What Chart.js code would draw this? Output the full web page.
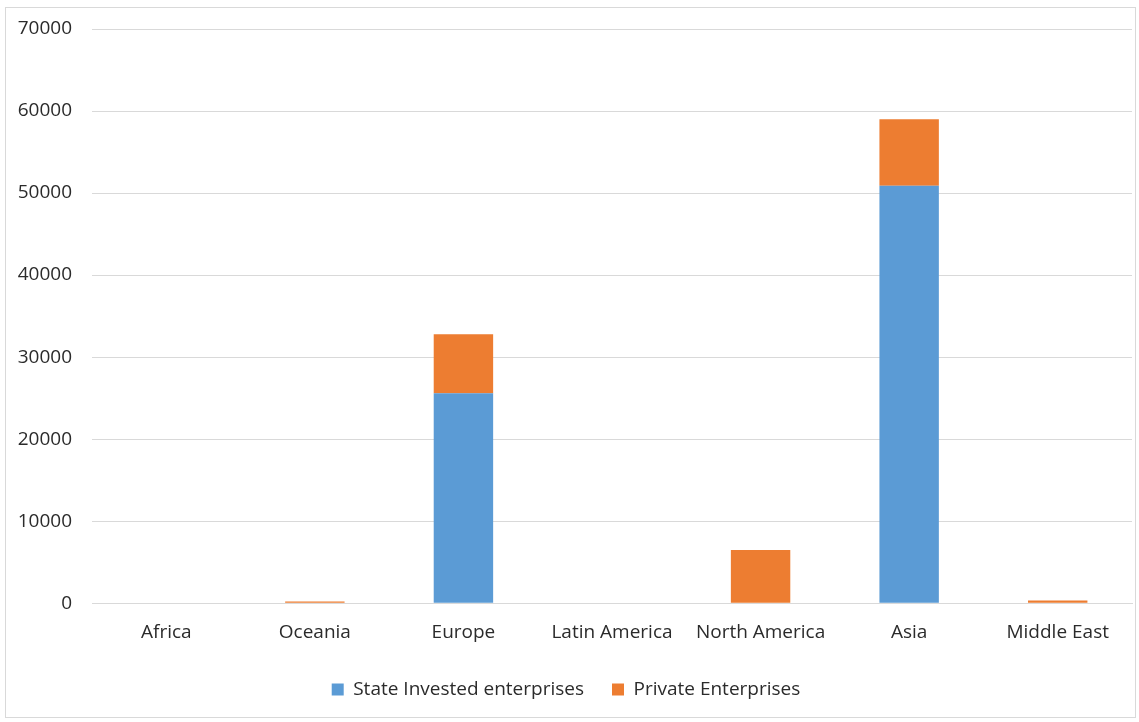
<!DOCTYPE html>
<html>
<head>
<meta charset="utf-8">
<script src="https://cdn.jsdelivr.net/npm/chart.js@4"></script>
<style>
  html, body { margin: 0; padding: 0; background: #fff; }
  #wrap { position: relative; width: 1139px; height: 722px; }
  #frame { position: absolute; left: 5px; top: 7px; width: 1131px; height: 711px; border: 1px solid #d9d9d9; box-sizing: border-box; pointer-events: none; }
</style>
</head>
<body>
<div id="wrap">
  <canvas id="chart" width="1139" height="722"></canvas>
  <div id="frame"></div>
</div>
<script>
const regions = ['Africa', 'Oceania', 'Europe', 'Latin America', 'North America', 'Asia', 'Middle East'];
const stateInvested = [0, 0, 25600, 0, 0, 50900, 0];
const privateEnterprises = [0, 200, 7200, 0, 6500, 8100, 330];
const yTicks = [0, 10000, 20000, 30000, 40000, 50000, 60000, 70000];

const textColor = '#2b2b2b';
const gridColor = '#d9d9d9';
Chart.defaults.font.family = '"Open Sans", "Noto Sans", sans-serif';
Chart.defaults.font.size = 19;
Chart.defaults.color = textColor;

new Chart(document.getElementById('chart').getContext('2d'), {
    type: 'bar',
    data: {
        labels: regions,
        datasets: [
            { label: 'State Invested enterprises', data: stateInvested, backgroundColor: '#5b9bd5', categoryPercentage: 1, barPercentage: 0.4 },
            { label: 'Private Enterprises', data: privateEnterprises, backgroundColor: '#ed7d31', categoryPercentage: 1, barPercentage: 0.4 }
        ]
    },
    options: {
        responsive: false,
        animation: false,
        layout: { padding: { left: 0, right: 7, top: 29, bottom: 13 } },
        plugins: {
            tooltip: { enabled: false },
            legend: {
                position: 'bottom',
                labels: { boxWidth: 12, boxHeight: 12, padding: 28, color: textColor }
            }
        },
        scales: {
            x: {
                stacked: true,
                afterFit(scale) { scale.height -= 2; },
                grid: { display: false },
                border: { display: true, color: gridColor },
                ticks: { padding: 10, color: textColor }
            },
            y: {
                stacked: true,
                min: 0,
                max: 70000,
                afterFit(scale) { scale.width = 92; scale.paddingTop = 0; scale.paddingBottom = 0; },
                afterBuildTicks(scale) { scale.ticks = yTicks.map(v => ({ value: v })); },
                grid: { color: gridColor, drawTicks: false },
                border: { display: false },
                ticks: { padding: 20, color: textColor, callback: v => String(v) }
            }
        }
    }
});
</script>
</body>
</html>
